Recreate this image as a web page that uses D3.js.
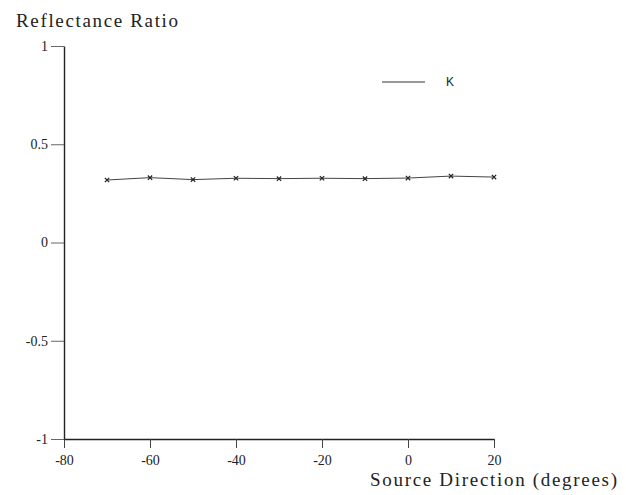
<!DOCTYPE html>
<html>
<head>
<meta charset="utf-8">
<script src="https://cdn.jsdelivr.net/npm/d3@7"></script>
<style>
  body { margin: 0; background: #fff; }
  text { font-family: "Liberation Serif", "DejaVu Serif", serif; fill: #222; }
</style>
</head>
<body>
<div id="root"></div>
<script>
// data
var directions = [-70, -60, -50, -40, -30, -20, -10, 0, 10, 20];
var ratioK = [0.318, 0.33, 0.32, 0.327, 0.325, 0.327, 0.325, 0.328, 0.338, 0.333];
var xTicks = [-80, -60, -40, -20, 0, 20];
var yTicks = [-1, -0.5, 0, 0.5, 1];
var yTickLabels = ["-1", "-0.5", "0", "0.5", "1"];
var seriesName = "K";

var width = 626, height = 495;

var svg = d3.select("#root")
            .append("svg")
            .attr("width", width)
            .attr("height", height);

// scales
var x = d3.scaleLinear()
  .domain([-80, 20])
  .range([64, 494]);

var y = d3.scaleLinear()
  .domain([-1, 1])
  .range([439, 46]);

// X axis
var xAxis = svg.append("g")
  .attr("transform", "translate(0," + y(-1) + ")")
  .call(d3.axisBottom(x).tickValues(xTicks).tickSize(9).tickPadding(7).tickSizeOuter(0)
    .tickFormat(function (d) { return String(d); }));
xAxis.attr("font-size", 14);
xAxis.select(".domain").attr("stroke", "#222").attr("stroke-width", 1.4);
xAxis.selectAll(".tick line").attr("stroke", "#444");
xAxis.selectAll(".tick text").attr("fill", "#222");

// Y axis
var yAxis = svg.append("g")
  .attr("transform", "translate(" + x(-80) + ",0)")
  .call(d3.axisLeft(y).tickValues(yTicks).tickSize(13).tickPadding(3).tickSizeOuter(0)
    .tickFormat(function (d, i) { return yTickLabels[i]; }));
yAxis.attr("font-size", 14);
yAxis.select(".domain").attr("stroke", "#222").attr("stroke-width", 1.4);
yAxis.selectAll(".tick line").attr("stroke", "#666");
yAxis.selectAll(".tick text").attr("fill", "#333");

// axis titles
svg.append("text")
  .attr("x", 16)
  .attr("y", 27)
  .attr("textLength", 162)
  .style("font-size", "19px")
  .text("Reflectance Ratio");

svg.append("text")
  .attr("x", 370)
  .attr("y", 486)
  .attr("textLength", 247)
  .style("font-size", "19px")
  .text("Source Direction (degrees)");

// series line
var pts = directions.map(function (d, i) { return {X: d, Y: ratioK[i]}; });

svg.append("path")
  .datum(pts)
  .attr("fill", "none")
  .attr("stroke", "#444")
  .attr("stroke-width", 1)
  .attr("d", d3.line()
    .x(function (d) { return x(d.X); })
    .y(function (d) { return y(d.Y); }));

// x markers
svg.append("g")
  .selectAll("path")
  .data(pts)
  .enter()
  .append("path")
    .attr("transform", function (d) { return "translate(" + x(d.X) + "," + y(d.Y) + ")"; })
    .attr("d", d3.symbol(d3.symbolX, 14))
    .attr("fill", "none")
    .attr("stroke", "#222")
    .attr("stroke-width", 1.2);

// legend
svg.append("line")
  .attr("x1", 382).attr("x2", 425)
  .attr("y1", 82).attr("y2", 82)
  .attr("stroke", "#333")
  .attr("stroke-width", 1.2);
svg.append("text")
  .attr("x", 446)
  .attr("y", 86)
  .style("font-family", "'Liberation Sans', sans-serif")
  .style("font-size", "12px")
  .text(seriesName);
</script>
</body>
</html>
